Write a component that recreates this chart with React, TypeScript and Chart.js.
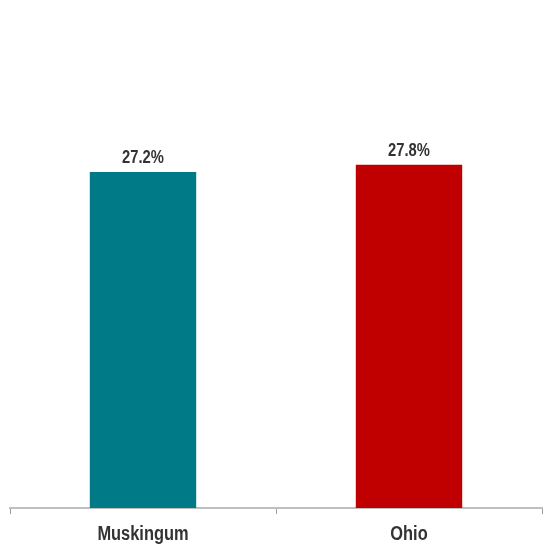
import React, { useEffect, useRef } from "react";
import { Chart, registerables } from "chart.js";

Chart.register(...registerables);

const categories = ["Muskingum", "Ohio"];
const values = [27.2, 27.8];
const barColors = ["#007A87", "#C00000"];
const valueLabels = ["27.2%", "27.8%"];

const FONT = "'Liberation Sans', Arial, sans-serif";
const NARROW = 0.82;

function drawNarrow(ctx: CanvasRenderingContext2D, text: string, x: number, y: number) {
  ctx.save();
  ctx.translate(x, y);
  ctx.scale(NARROW, 1);
  ctx.fillText(text, 0, 0);
  ctx.restore();
}

const labelPlugin = {
  id: "narrowLabels",
  afterDatasetsDraw(chart: any) {
    const ctx = chart.ctx;
    const meta = chart.getDatasetMeta(0);
    ctx.save();
    ctx.fillStyle = "#333333";
    ctx.textAlign = "center";
    ctx.textBaseline = "alphabetic";
    ctx.font = `bold 18px ${FONT}`;
    meta.data.forEach((bar: any, i: number) => {
      drawNarrow(ctx, valueLabels[i], bar.x, bar.y - 9);
    });
    ctx.font = `bold 20px ${FONT}`;
    ctx.textBaseline = "middle";
    const xs = chart.scales.x;
    categories.forEach((c, i) => {
      drawNarrow(ctx, c, xs.getPixelForValue(i), xs.top + 26);
    });
    ctx.restore();
  },
};

export default function App() {
  const ref = useRef<HTMLCanvasElement | null>(null);

  useEffect(() => {
    document.body.style.margin = "0";
    const canvas = ref.current;
    if (!canvas) return;
    const chart = new Chart(canvas, {
      type: "bar",
      data: {
        labels: categories,
        datasets: [
          {
            data: values,
            backgroundColor: barColors,
            borderWidth: 0,
            categoryPercentage: 1,
            barPercentage: 0.4,
          },
        ],
      },
      options: {
        animation: false,
        responsive: false,
        maintainAspectRatio: false,
        layout: { padding: { top: 14, left: 10, right: 1, bottom: 0 } },
        plugins: {
          legend: { display: false },
          tooltip: { enabled: false },
        },
        scales: {
          x: {
            offset: true,
            grid: {
              display: true,
              drawOnChartArea: false,
              drawTicks: true,
              tickLength: 6,
              color: "#9a9a9a",
              offset: true,
            },
            border: { display: true, color: "#bfbfbf", width: 2 },
            ticks: {
              padding: 9,
              color: "rgba(0,0,0,0)",
              font: { family: FONT, size: 20, weight: "bold" },
            },
          },
          y: {
            display: false,
            min: 0,
            max: 40,
          },
        },
      },
      plugins: [labelPlugin],
    });
    return () => chart.destroy();
  }, []);

  return (
    <div style={{ width: 543, height: 546, overflow: "hidden" }}>
      <canvas ref={ref} width={543} height={556} style={{ display: "block" }} />
    </div>
  );
}
